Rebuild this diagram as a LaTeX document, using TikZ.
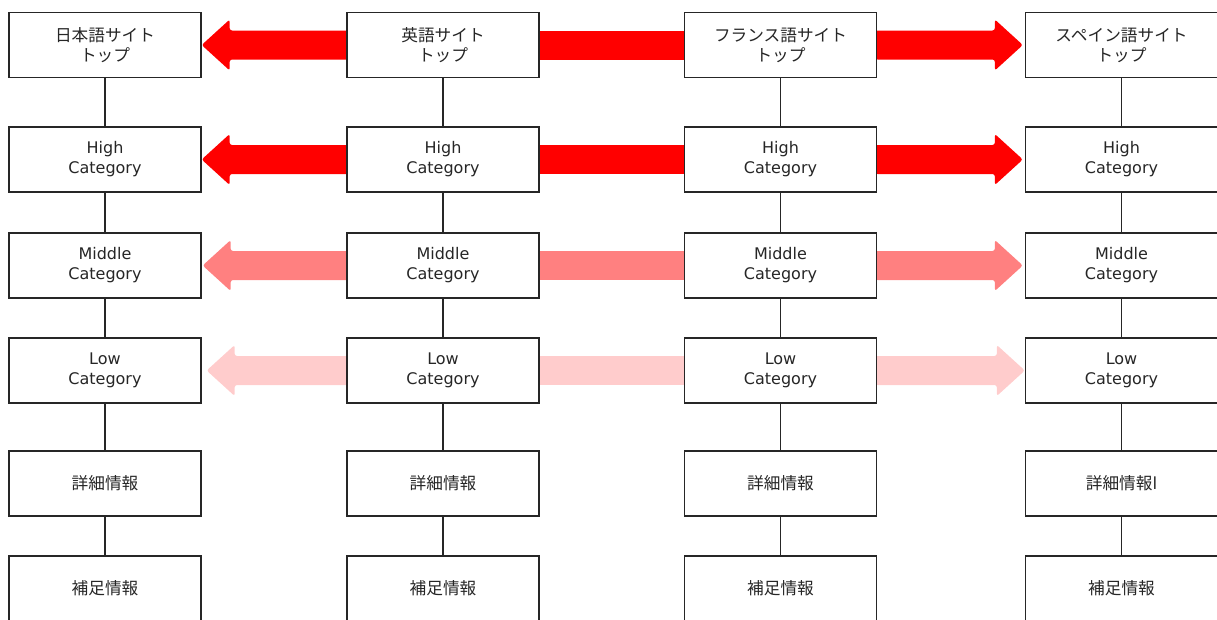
\documentclass[tikz,border=0pt]{standalone}
\usepackage{fontspec}
\setmainfont{DejaVu Sans}
\newfontfamily\jp{Noto Sans CJK JP}
\usetikzlibrary{calc,backgrounds}
\definecolor{arrA}{HTML}{FF0000}
\definecolor{arrB}{HTML}{FF8080}
\definecolor{arrC}{HTML}{FFCCCC}
\newcommand\leftarr[4]{% color, source (right), target (left), gap
  \fill[#1,rounded corners=1.8pt] ($(#2.west)+(2,-14.5)$) -- ($(#3.east)+(#4+28,-14.5)$) -- ($(#3.east)+(#4+28,-25.5)$) -- ($(#3.east)+(#4,0)$) -- ($(#3.east)+(#4+28,25.5)$) -- ($(#3.east)+(#4+28,14.5)$) -- ($(#2.west)+(2,14.5)$) -- cycle;}
\newcommand\rightarr[4]{% color, source (left), target (right), gap
  \fill[#1,rounded corners=1.8pt] ($(#2.east)+(-2,-14.5)$) -- ($(#3.west)+(-#4-28,-14.5)$) -- ($(#3.west)+(-#4-28,-25.5)$) -- ($(#3.west)+(-#4,0)$) -- ($(#3.west)+(-#4-28,25.5)$) -- ($(#3.west)+(-#4-28,14.5)$) -- ($(#2.east)+(-2,14.5)$) -- cycle;}
\newcommand\band[3]{% color, left node, right node
  \fill[#1] ($(#2.east)+(-2,-14.5)$) rectangle ($(#3.west)+(2,14.5)$);}
\begin{document}
\begin{tikzpicture}[x=0.75pt,y=-0.75pt,
  box/.style={draw=black!85, line width=1pt, fill=white, minimum width=144pt,
    minimum height=48.75pt, inner sep=0pt, align=center,
    font=\fontsize{12}{15}\selectfont, text=black!85},
  jpbox/.style={box, font=\jp\fontsize{12.5}{15}\selectfont},
  link/.style={draw=black!85, line width=1pt}]
\useasboundingbox (0,0) rectangle (1217,619);
\clip (0,0) rectangle (1217,619);
% column: Japanese
\node[jpbox] (j1) at (105,45) {日本語サイト\\トップ};
\node[box] (j2) at (105,159.5) {High\\Category};
\node[box] (j3) at (105,265.5) {Middle\\Category};
\node[box] (j4) at (105,370.5) {Low\\Category};
\node[jpbox] (j5) at (105,483.5) {詳細情報};
\node[jpbox] (j6) at (105,588.5) {補足情報};
% column: English
\node[jpbox] (e1) at (443,45) {英語サイト\\トップ};
\node[box] (e2) at (443,159.5) {High\\Category};
\node[box] (e3) at (443,265.5) {Middle\\Category};
\node[box] (e4) at (443,370.5) {Low\\Category};
\node[jpbox] (e5) at (443,483.5) {詳細情報};
\node[jpbox] (e6) at (443,588.5) {補足情報};
% column: French
\node[jpbox] (f1) at (780.5,45) {フランス語サイト\\トップ};
\node[box] (f2) at (780.5,159.5) {High\\Category};
\node[box] (f3) at (780.5,265.5) {Middle\\Category};
\node[box] (f4) at (780.5,370.5) {Low\\Category};
\node[jpbox] (f5) at (780.5,483.5) {詳細情報};
\node[jpbox] (f6) at (780.5,588.5) {補足情報};
% column: Spanish
\node[jpbox] (s1) at (1121.5,45) {スペイン語サイト\\トップ};
\node[box] (s2) at (1121.5,159.5) {High\\Category};
\node[box] (s3) at (1121.5,265.5) {Middle\\Category};
\node[box] (s4) at (1121.5,370.5) {Low\\Category};
\node[jpbox] (s5) at (1121.5,483.5) {詳細情報{\fontspec{DejaVu Sans}l}};
\node[jpbox] (s6) at (1121.5,588.5) {補足情報};
% vertical links
\foreach \c in {j,e,f,s}{
  \draw[link] (\c1) -- (\c2);
  \draw[link] (\c2) -- (\c3);
  \draw[link] (\c3) -- (\c4);
  \draw[link] (\c4) -- (\c5);
  \draw[link] (\c5) -- (\c6);
}
% arrows
\begin{scope}[on background layer]
  \leftarr{arrA}{e1}{j1}{0}
  \band{arrA}{e1}{f1}
  \rightarr{arrA}{f1}{s1}{2}
  \leftarr{arrA}{e2}{j2}{0}
  \band{arrA}{e2}{f2}
  \rightarr{arrA}{f2}{s2}{2}
  \leftarr{arrB}{e3}{j3}{1}
  \band{arrB}{e3}{f3}
  \rightarr{arrB}{f3}{s3}{2}
  \leftarr{arrC}{e4}{j4}{5}
  \band{arrC}{e4}{f4}
  \rightarr{arrC}{f4}{s4}{0}
\end{scope}
\end{tikzpicture}
\end{document}
